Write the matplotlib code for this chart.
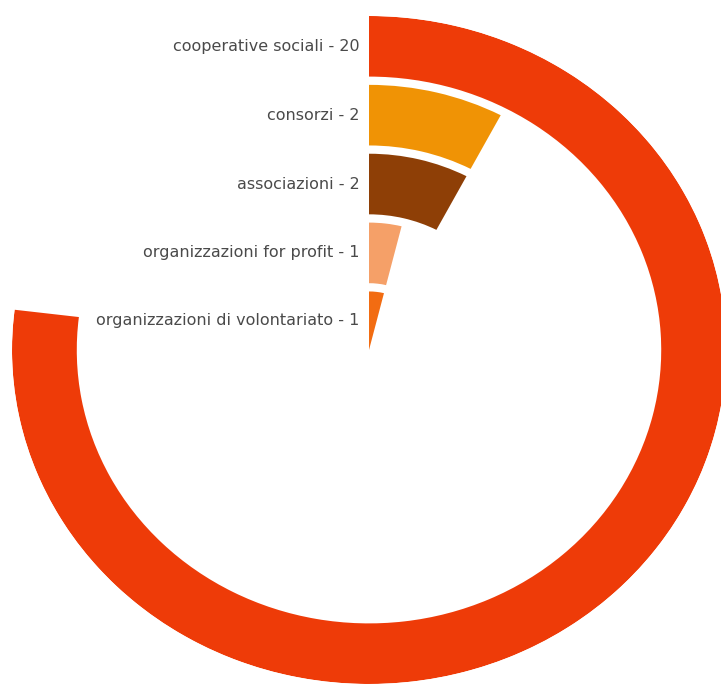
import numpy as np
import matplotlib.pyplot as plt

# categories and counts, outermost ring first
categories = ['cooperative sociali', 'consorzi', 'associazioni',
              'organizzazioni for profit', 'organizzazioni di volontariato']
counts = [20, 2, 2, 1, 1]
colors = ['#ee3b08', '#f09305', '#8e3f06', '#f5a068', '#f26c12']

total = sum(counts)
n = len(counts)
r_max = 4.85
ring = 0.88

fig = plt.figure(figsize=(7.21, 6.89), dpi=100)
ax = fig.add_axes([12 / 721, 5 / 689, 714 / 721, 668 / 689], projection='polar')
ax.set_aspect('auto')
ax.set_theta_zero_location('N')
ax.set_theta_direction(-1)

# one ring per category, angle proportional to share of the total
for i, (cat, val, col) in enumerate(zip(categories, counts, colors)):
    outer = r_max - i
    inner = max(outer - ring, 0)
    theta = val / total * 2 * np.pi
    ax.barh(inner, theta, height=outer - inner, left=0, align='edge',
            color=col, edgecolor='none')
    ax.annotate(f'{cat} - {val}', xy=(0, (outer + inner) / 2), xytext=(-7, 0),
                textcoords='offset points', ha='right', va='center',
                fontsize=11.5, color='#4a4a4a', family='DejaVu Sans')

ax.set_ylim(0, r_max)
ax.set_xticks([])
ax.set_yticks([])
ax.spines['polar'].set_visible(False)
ax.grid(False)

fig.savefig('out.png', dpi=100)
